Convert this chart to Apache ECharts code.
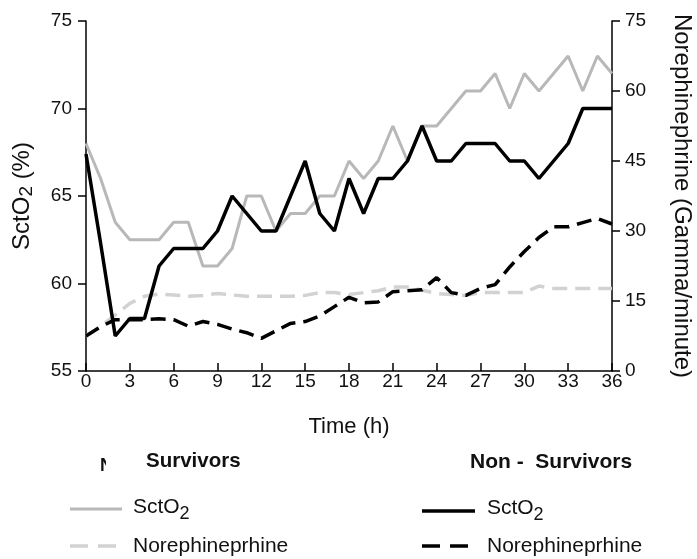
<!DOCTYPE html>
<html>
<head>
<meta charset="utf-8">
<script src="https://cdn.jsdelivr.net/npm/echarts@6/dist/echarts.min.js"></script>
<style>
html,body{margin:0;padding:0;background:#fff;}
#chart{width:697px;height:559px;}
</style>
</head>
<body>
<div id="chart"></div>
<script>
// ---- data ----
const hours = [0,1,2,3,4,5,6,7,8,9,10,11,12,13,14,15,16,17,18,19,20,21,22,23,24,25,26,27,28,29,30,31,32,33,34,35,36];
const survSctO2 = [68,66,63.5,62.5,62.5,62.5,63.5,63.5,61,61,62,65,65,63,64,64,65,65,67,66,67,69,67,69,69,70,71,71,72,70,72,71,72,73,71,73,72];
const nonSurvSctO2 = [67.4,62.3,57,58,58,61,62,62,62,63,65,64,63,63,65,67,64,63,66,64,66,66,67,69,67,67,68,68,68,67,67,66,67,68,70,70,70];
const survNE = [7.5,9.6,12,14.5,16,16.5,16.3,16,16.2,16.6,16.3,16,16,16,16,16.2,16.8,16.8,16.4,16.8,17.2,18,18,17.3,16.6,16.4,16.2,16.8,16.8,16.8,16.8,18.2,17.7,17.7,17.7,17.7,17.7];
const nonSurvNE = [7.5,9.5,11,11,11,11.2,11,9.6,10.6,10,9,8.2,7,8.6,10.2,10.6,11.8,13.8,15.8,14.6,14.8,17,17.2,17.4,20,16.8,16.2,17.7,18.5,22.3,25.6,28.6,30.9,30.9,31.8,32.7,31.5];
const xTicks = {min:0, max:36, interval:3};
const leftTicks = {min:55, max:75, interval:5};
const rightTicks = {min:0, max:75, interval:15};
const groupTitles = ['Survivors', 'Non -  Survivors'];
const legendMain = ['SctO', 'Norephineprhine'];
const legendSub = '2';

const FONT = "'Liberation Sans', Arial, Helvetica, sans-serif";
const pairs = (arr) => hours.map((h,i)=>[h, arr[i]]);

const GREY = '#b8b8b8', LIGHT = '#d2d2d2', BLACK = '#000';

const chart = echarts.init(document.getElementById('chart'), null, {renderer:'canvas'});

function legendLine(x, y, len, color, width, dash) {
  return {type:'line', z: 5, shape:{x1:x, y1:y, x2:x+len, y2:y},
          style:{stroke: color, lineWidth: width, lineDash: dash || null}};
}
function legendText(x, y, text, size) {
  return {type:'text', z: 5, x: x, y: y,
          style:{text: text, x: 0, y: 0, verticalAlign:'middle', align:'left',
                 font: size + 'px ' + FONT, fill:'#111'}};
}

const graphics = [
  {type:'text', left: 146, top: 451, style:{text: groupTitles[0], font:"bold 20.5px " + FONT, fill:'#111'}},
  {type:'text', left: 470, top: 452, style:{text: groupTitles[1], font:"bold 21px " + FONT, fill:'#111'}},
  {type:'text', left: 100, top: 457, z: 1, style:{text:'N', font:"bold 18px " + FONT, fill:'#111'}},
  {type:'rect', left: 106, top: 455, z: 2, shape:{width: 8, height: 22}, style:{fill:'#fff'}},
  // survivors
  legendLine(70, 509, 52, GREY, 3, null),
  legendText(133, 507, legendMain[0], 21),
  legendText(179.5, 514, legendSub, 18),
  legendLine(70, 546, 52, LIGHT, 3.5, [18,10]),
  legendText(133, 546, legendMain[1], 21),
  // non-survivors
  legendLine(422, 511, 53, BLACK, 3.5, null),
  legendText(487, 508, legendMain[0], 21),
  legendText(533.5, 515, legendSub, 18),
  legendLine(422, 546, 52, BLACK, 3.5, [18,10]),
  legendText(487, 546, legendMain[1], 21)
];

const option = {
  animation: false,
  backgroundColor: '#fff',
  textStyle: {fontFamily: FONT},
  grid: {left: 86, right: 85, top: 21, bottom: 188, containLabel: false, outerBoundsMode: 'none'},
  xAxis: {
    type: 'value', min: xTicks.min, max: xTicks.max, interval: xTicks.interval,
    name: 'Time (h)', nameLocation: 'middle', nameGap: 45,
    nameTextStyle: {fontFamily: FONT, fontSize: 22, color: '#111'},
    axisLine: {show: true, lineStyle: {color: '#000', width: 1.5}},
    axisTick: {show: true, inside: true, length: 8, lineStyle: {color:'#000', width: 1.5}},
    axisLabel: {margin: 1, fontFamily: FONT, fontSize: 19, color: '#111'},
    splitLine: {show: false}
  },
  yAxis: [
    {
      type: 'value', position: 'left', min: leftTicks.min, max: leftTicks.max, interval: leftTicks.interval,
      name: '{a|SctO}{s|2}{a| (%)}', nameLocation: 'middle', nameGap: 50,
      nameTextStyle: {fontFamily: FONT, fontSize: 24, color: '#111',
        rich: {a:{fontFamily: FONT, fontSize: 24, color:'#111', lineHeight: 28},
               s:{fontFamily: FONT, fontSize: 19, color:'#111', verticalAlign:'bottom', lineHeight: 14}}},
      axisLine: {show: true, lineStyle: {color: '#000', width: 1.5}},
      axisTick: {show: true, inside: false, length: 8, lineStyle: {color:'#000', width: 1.5}},
      axisLabel: {margin: 14, fontFamily: FONT, fontSize: 19, color: '#111'},
      splitLine: {show: false}
    },
    {
      type: 'value', position: 'right', min: rightTicks.min, max: rightTicks.max, interval: rightTicks.interval,
      name: 'Norephinephrine (Gamma/minute)', nameLocation: 'middle', nameGap: 58, nameRotate: -90,
      nameTextStyle: {fontFamily: FONT, fontSize: 24, color: '#111'},
      axisLine: {show: true, lineStyle: {color: '#000', width: 1.5}},
      axisTick: {show: true, inside: false, length: 8, lineStyle: {color:'#000', width: 1.5}},
      axisLabel: {margin: 13, fontFamily: FONT, fontSize: 19, color: '#111'},
      splitLine: {show: false}
    }
  ],
  graphic: graphics,
  series: [
    {name: 'Survivors SctO2', type: 'line', yAxisIndex: 0, symbol: 'none', data: pairs(survSctO2),
     lineStyle: {color: GREY, width: 3}, itemStyle: {color: GREY}, z: 2},
    {name: 'Survivors Norephineprhine', type: 'line', yAxisIndex: 1, symbol: 'none', data: pairs(survNE),
     lineStyle: {color: LIGHT, width: 3.5, type: [15,8]}, itemStyle: {color: LIGHT}, z: 2},
    {name: 'Non-Survivors SctO2', type: 'line', yAxisIndex: 0, symbol: 'none', data: pairs(nonSurvSctO2),
     lineStyle: {color: BLACK, width: 3.5}, itemStyle: {color: BLACK}, z: 3},
    {name: 'Non-Survivors Norephineprhine', type: 'line', yAxisIndex: 1, symbol: 'none', data: pairs(nonSurvNE),
     lineStyle: {color: BLACK, width: 3.5, type: [15,8]}, itemStyle: {color: BLACK}, z: 3}
  ]
};
chart.setOption(option);
</script>
</body>
</html>
